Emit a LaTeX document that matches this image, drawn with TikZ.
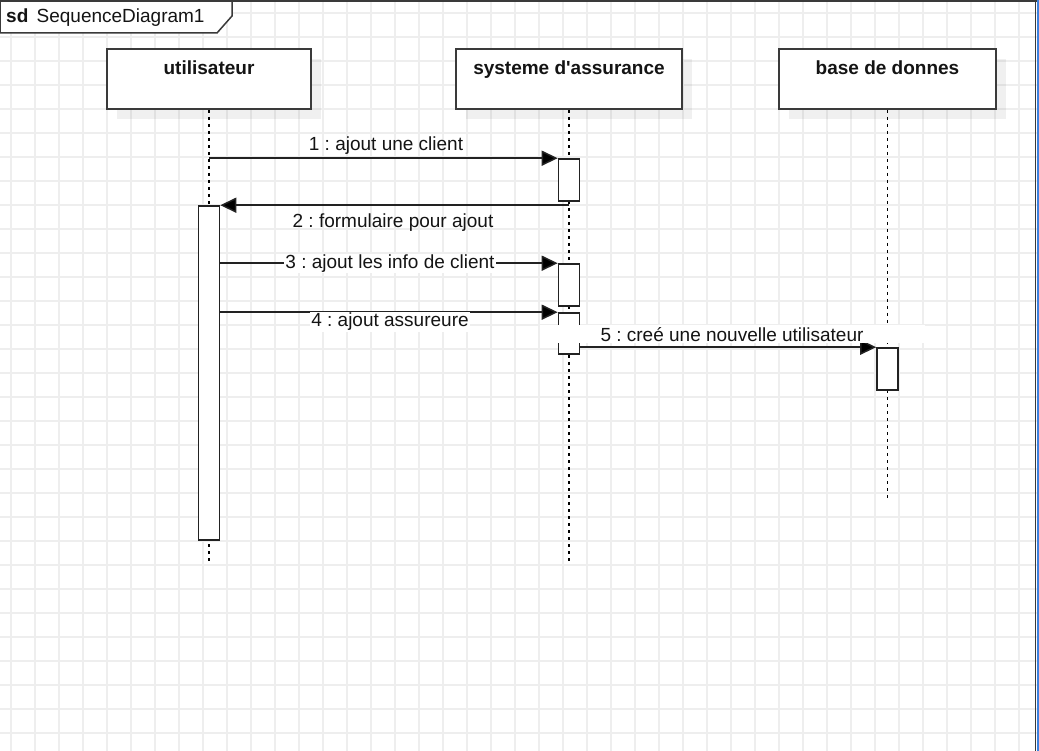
\documentclass[tikz,border=0pt]{standalone}
\usepackage{fontspec}
\setmainfont{Liberation Sans}
\frenchspacing
\usetikzlibrary{arrows.meta,calc,shadows}
\definecolor{gridc}{HTML}{EEEEEE}
\definecolor{linec}{HTML}{222222}
\definecolor{boxc}{HTML}{3A3A3A}
\definecolor{textc}{HTML}{141414}
\definecolor{edgeblue}{HTML}{3C82E0}
\tikzset{
  x=1pt, y=-1pt,
  lifebox/.style={draw=boxc, line width=2pt, fill=white, minimum height=60pt,
    inner sep=0pt, drop shadow={shadow xshift=10pt, shadow yshift=-10pt, fill=black, opacity=0.06}},
  headtext/.style={font=\fontsize{19}{22}\selectfont\bfseries, text=textc, inner sep=0pt, anchor=base},
  lifeline/.style={draw=black, line width=1.5pt, dash pattern=on 3pt off 4pt},
  actbox/.style={draw=linec, line width=1.6pt, fill=white, minimum width=21pt, inner sep=0pt},
  msg/.style={draw=linec, line width=1.5pt, -{Triangle[length=16pt,width=15pt,fill=black]}},
  msgtext/.style={font=\fontsize{19}{22}\selectfont, text=textc, inner sep=1pt},
  msgtextbg/.style={msgtext, fill=white},
}
\begin{document}
\begin{tikzpicture}
\useasboundingbox (0,0) rectangle (1039,751);
% background grid
\fill[white] (0,0) rectangle (1039,751);
\foreach \gx in {11,35,...,1035} \draw[gridc, line width=1.2pt] (\gx,0) -- (\gx,751);
\foreach \gy in {13,37,...,751} \draw[gridc, line width=1.2pt] (0,\gy) -- (1039,\gy);

% lifeline heads
\node[lifebox, minimum width=204pt] (u) at (209,79) {};
\node[headtext] (ut) at (209,74.5) {utilisateur};
\node[lifebox, minimum width=226pt] (s) at (569,79) {};
\node[headtext] (st) at (569,74.5) {systeme d\textquotesingle assurance};
\node[lifebox, minimum width=217pt] (b) at (887.5,79) {};
\node[headtext] (bt) at (887.5,74.5) {base de donnes};

% lifelines
\coordinate (uend) at (209,562);
\coordinate (send) at (569,562);
\coordinate (bend) at (887.5,501);
\draw[lifeline] (u.south) -- (uend);
\draw[lifeline] (s.south) -- (send);
\draw[lifeline, line width=1.7pt] (b.south) -- (bend);

% activation bars
\node[actbox, minimum height=42pt] (s1) at (569,180) {};
\node[actbox, minimum height=334pt] (ua) at (209,373) {};
\node[actbox, minimum height=42pt] (s2) at (569,285) {};
\node[actbox, minimum height=41pt] (s3) at (569,333.5) {};
\node[actbox, minimum height=42pt] (b1) at (887.5,369) {};

% messages
\draw[msg] (u.south |- s1.north west) -- (s1.north west);
\node[msgtext] (m1) at (386,146) {1 : ajout une client};

\draw[msg] (s.south |- ua.north east) -- (ua.north east);
\node[msgtext] (m2) at (393,223) {2 : formulaire pour ajout};

\draw[msg] (ua.east |- s2.north west) -- (s2.north west);
\node[msgtextbg] (m3) at (390,263.5) {3 : ajout les info de client};

\draw[msg] (ua.east |- s3.north west) -- (s3.north west);
\node[msgtextbg] (m4) at (390,322) {4 : ajout assureure};

\draw[msg] (s3.east |- b1.north west) -- (b1.north west);
\node[msgtext, fill=white, minimum width=385pt, minimum height=18pt, inner sep=0pt] (m5) at (732,334.5) {5 : creé une nouvelle utilisateur};

% frame tag
\draw[boxc, line width=1.5pt, fill=white] (0,0) -- (232,0) -- (232,16) -- (217,33) -- (0,33) -- cycle;
\node[anchor=west, font=\fontsize{19}{22}\selectfont, text=textc, inner sep=0pt] (tag) at (6,18) {\textbf{sd}\hspace{3pt} SequenceDiagram1};

% window edges
\draw[boxc, line width=2pt] (0,1) -- (1039,1);
\draw[boxc, line width=1.5pt] (1035.5,0) -- (1035.5,751);
\fill[edgeblue] (1036.5,0) rectangle (1039,751);
\end{tikzpicture}
\end{document}
